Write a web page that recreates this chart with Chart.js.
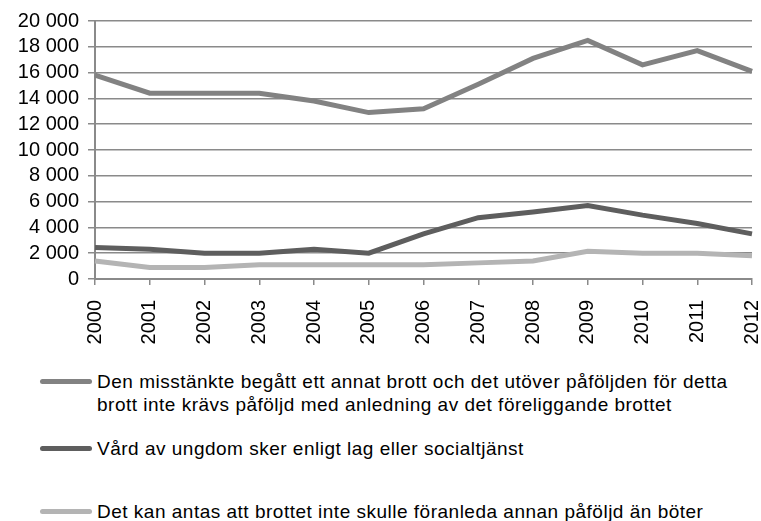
<!DOCTYPE html>
<html lang="sv">
<head>
<meta charset="utf-8">
<script src="https://cdn.jsdelivr.net/npm/chart.js@4.4.1/dist/chart.umd.min.js"></script>
<style>
  body { margin: 0; background: #fff; font-family: "Liberation Sans", Arial, sans-serif; }
  #wrap { position: relative; width: 761px; height: 521px; overflow: hidden; }
  #chartBox { position: absolute; left: 0; top: 0; width: 761px; height: 362px; }
  #legend { position: absolute; left: 40px; top: 370px; width: 715px; }
  .item { display: flex; align-items: flex-start; font-size: 19px; line-height: 23px; color: #000; letter-spacing: 0.5px; }
  .item + .item { margin-top: 21px; }
  .item:nth-child(3) { margin-top: 40px; }
  .swatch { flex: 0 0 52px; height: 5px; border-radius: 3px; margin-top: 9px; margin-right: 5px; }
  .label { width: 650px; }
</style>
</head>
<body>
<div id="wrap">
  <div id="chartBox"><canvas id="chart"></canvas></div>
  <div id="legend"></div>
</div>
<script>
const years = ["2000", "2001", "2002", "2003", "2004", "2005", "2006", "2007", "2008", "2009", "2010", "2011", "2012"];

const annatBrott = [15800, 14400, 14400, 14400, 13800, 12900, 13200, 15100, 17100, 18500, 16600, 17700, 16100];
const vardUngdom = [2450, 2300, 2000, 2000, 2300, 2000, 3500, 4750, 5200, 5700, 4950, 4300, 3500];
const endastBoter = [1400, 900, 900, 1100, 1100, 1100, 1100, 1250, 1400, 2150, 2000, 2000, 1800];

const seriesNames = [
    "Den misstänkte begått ett annat brott och det utöver påföljden för detta brott inte krävs påföljd med anledning av det föreliggande brottet",
    "Vård av ungdom sker enligt lag eller socialtjänst",
    "Det kan antas att brottet inte skulle föranleda annan påföljd än böter"
];
const seriesColors = ["#828282", "#5e5e5e", "#b4b4b4"];

const yTicks = [0, 2000, 4000, 6000, 8000, 10000, 12000, 14000, 16000, 18000, 20000];

function formatNumber(v) {
    return String(v).replace(/\B(?=(\d{3})+(?!\d))/g, " ");
}

const gridColor = "#8a8a8a";

const chart = new Chart(document.getElementById("chart"), {
    type: "line",
    data: {
        labels: years,
        datasets: [annatBrott, vardUngdom, endastBoter].map((values, i) => ({
            label: seriesNames[i],
            data: values,
            borderColor: seriesColors[i],
            backgroundColor: seriesColors[i],
            borderWidth: 5,
            pointRadius: 0,
            tension: 0,
            fill: false
        }))
    },
    options: {
        responsive: true,
        maintainAspectRatio: false,
        animation: false,
        layout: { padding: { top: 21, right: 9, left: 0, bottom: 0 } },
        plugins: {
            legend: { display: false },
            tooltip: { enabled: false }
        },
        scales: {
            x: {
                offset: false,
                afterFit: scale => {
                    scale.height = 83;
                    scale.paddingLeft = 0;
                    scale.paddingRight = 0;
                },
                grid: { drawOnChartArea: false, drawTicks: true, tickLength: 6, color: gridColor, lineWidth: 1.5 },
                border: { display: true, color: gridColor, width: 2 },
                ticks: {
                    color: "#000",
                    minRotation: 90,
                    maxRotation: 90,
                    autoSkip: false,
                    padding: 15,
                    font: { family: "Liberation Sans", size: 20 }
                }
            },
            y: {
                min: 0,
                max: 20000,
                afterFit: scale => { scale.width = 95; },
                afterBuildTicks: scale => { scale.ticks = yTicks.map(v => ({ value: v })); },
                grid: { color: gridColor, lineWidth: 1.5, tickLength: 7 },
                border: { display: true, color: gridColor, width: 2 },
                ticks: {
                    color: "#000",
                    padding: 9,
                    autoSkip: false,
                    font: { family: "Liberation Sans", size: 20 },
                    callback: v => formatNumber(v)
                }
            }
        }
    }
});

// legend under the chart, wrapped like the original
const legendBox = document.getElementById("legend");
chart.data.datasets.forEach(ds => {
    const item = document.createElement("div");
    item.className = "item";
    const swatch = document.createElement("span");
    swatch.className = "swatch";
    swatch.style.background = ds.borderColor;
    const label = document.createElement("span");
    label.className = "label";
    label.textContent = ds.label;
    item.appendChild(swatch);
    item.appendChild(label);
    legendBox.appendChild(item);
});
</script>
</body>
</html>
